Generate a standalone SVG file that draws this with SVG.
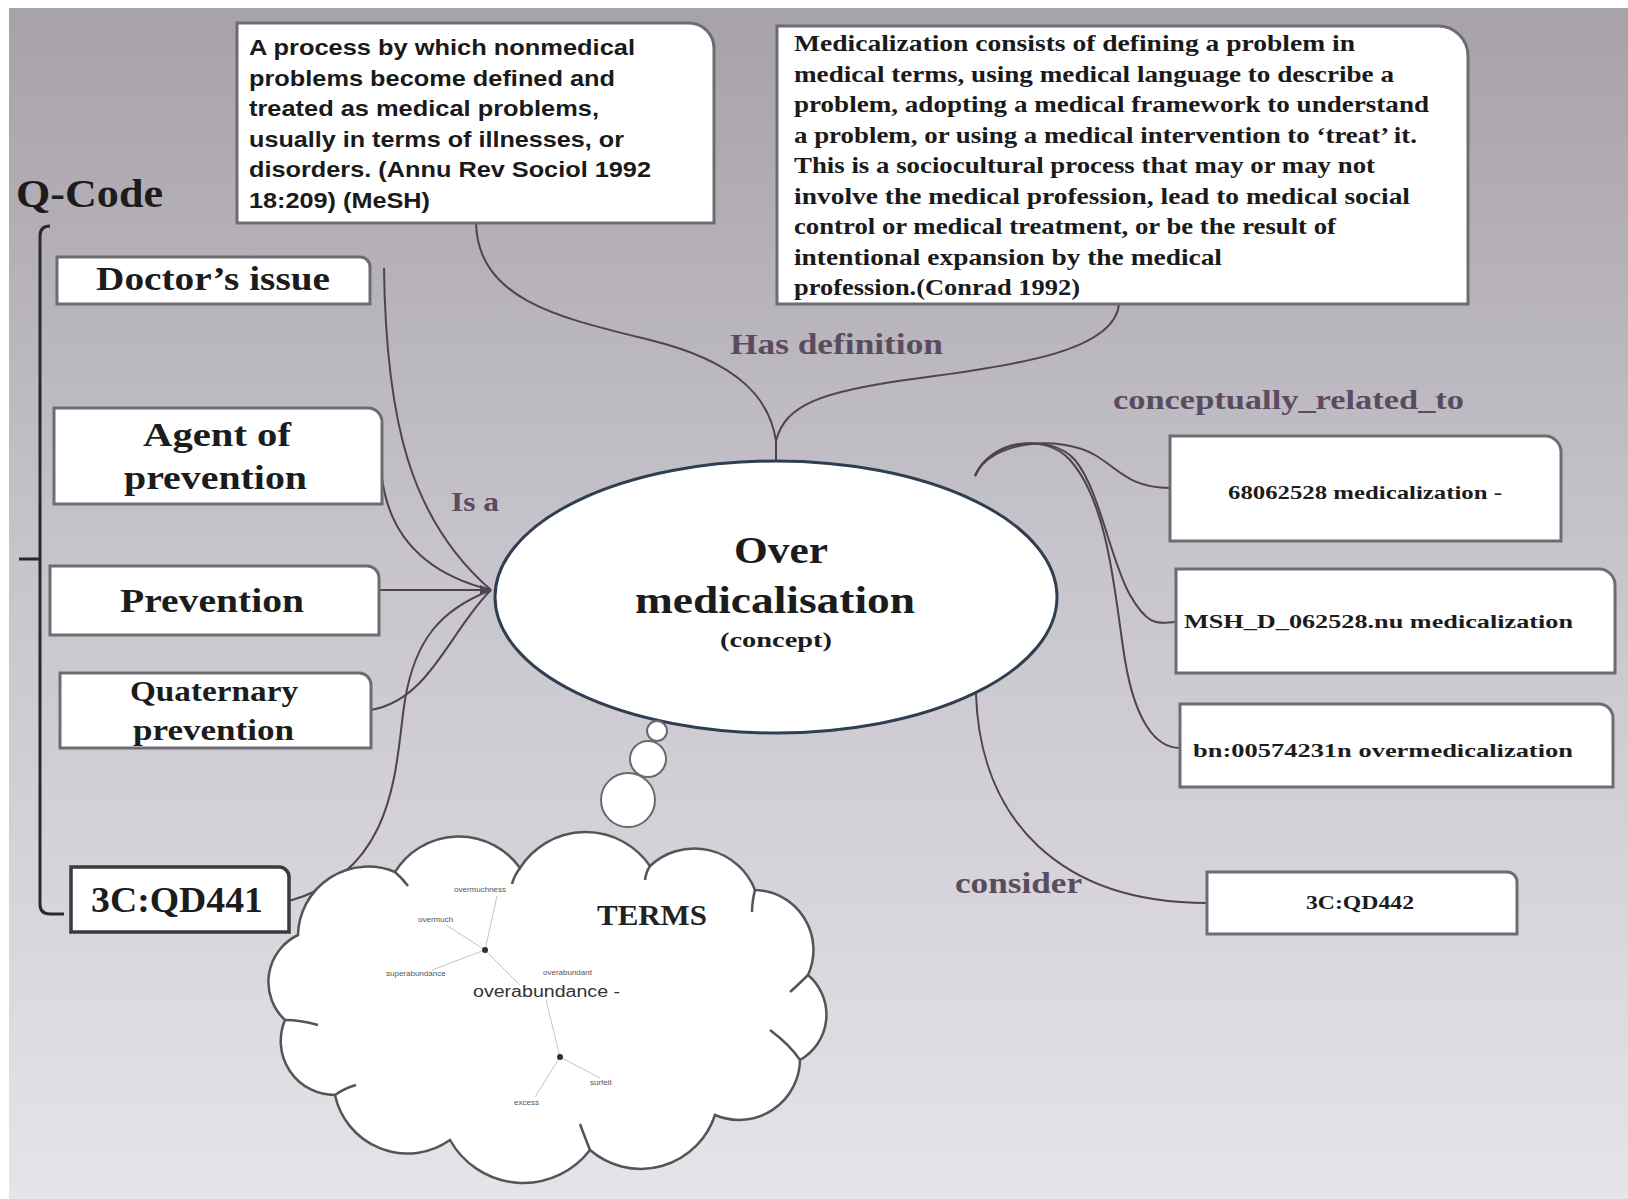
<svg xmlns="http://www.w3.org/2000/svg" width="1628" height="1199" viewBox="0 0 1628 1199">
<defs>
<linearGradient id="bg" x1="0" y1="0" x2="0" y2="1">
<stop offset="0" stop-color="#a7a1a9"/>
<stop offset="0.45" stop-color="#c6c3ca"/>
<stop offset="1" stop-color="#e5e4e9"/>
</linearGradient>
<marker id="arr" markerWidth="12" markerHeight="10" refX="11" refY="5" orient="auto" markerUnits="userSpaceOnUse">
<path d="M0,0 L12,5 L0,10 Z" fill="#4f4352"/>
</marker>
<style>
.box{fill:#ffffff;stroke:#6e6c72;stroke-width:3}
.boxd{fill:#ffffff;stroke:#3a3a3e;stroke-width:3.5}
.lbl{font-family:"Liberation Serif",serif;font-weight:bold;fill:#1c1c1c}
.def1{font-family:"Liberation Sans",Arial,sans-serif;font-weight:bold;font-size:22px;fill:#1a1a1a}
.def2{font-family:"Liberation Serif",serif;font-weight:bold;font-size:23px;fill:#1a1a1a}
.rel{font-family:"Liberation Serif",serif;font-weight:bold;fill:#5a4c5f}
.con{fill:none;stroke:#4f4352;stroke-width:2}
.term{font-family:"Liberation Sans",Arial,sans-serif;font-size:8px;fill:#555}
.tl{stroke:#c4c4c4;stroke-width:1;fill:none}
.curl{fill:none;stroke:#555558;stroke-width:2.5}
</style>
</defs>
<rect x="0" y="0" width="1628" height="1199" fill="#ffffff"/>
<rect x="9" y="8" width="1619" height="1191" fill="url(#bg)"/>

<g id="connectors">
<path class="con" d="M476,223 C478,300 560,318 650,340 S770,400 776,441"/>
<path class="con" d="M1119,304 C1115,350 1020,365 920,378 S785,405 776,441"/>
<path class="con" d="M776,441 V461"/>
<path class="con" d="M384,268 C386,420 410,520 491,590"/>
<path class="con" d="M382,478 C390,540 430,575 491,590"/>
<path class="con" d="M371,710 C430,700 450,630 491,590"/>
<path class="con" d="M289,901 C400,870 395,760 405,700 S440,610 491,590"/>
<path class="con" d="M379,590 H491" marker-end="url(#arr)"/>
<path class="con" d="M975,476 C990,440 1060,435 1095,455 C1120,470 1130,488 1170,488"/>
<path class="con" d="M975,476 C990,440 1050,432 1075,460 C1100,490 1110,560 1130,595 S1160,622 1176,622"/>
<path class="con" d="M975,476 C990,440 1045,432 1070,460 C1110,505 1115,600 1125,660 C1135,720 1155,748 1180,748"/>
<path class="con" d="M976,694 C980,820 1060,903 1207,903"/>
<path d="M50,226 Q40,226 40,236 V904 Q40,914 50,914 H64" fill="none" stroke="#2a2a2e" stroke-width="3"/>
<path d="M19,559 H40" fill="none" stroke="#2a2a2e" stroke-width="3"/>
</g>

<g id="qcode"><text class="lbl" x="16" y="207" font-size="40" textLength="147" lengthAdjust="spacingAndGlyphs">Q-Code</text></g>

<g id="def-mesh">
<path class="box" d="M237,23 H689 A25,25 0 0 1 714,48 V223 H237 Z"/>
<text class="def1" x="249" y="55" textLength="386" lengthAdjust="spacingAndGlyphs">A process by which nonmedical</text>
<text class="def1" x="249" y="85.6" textLength="366" lengthAdjust="spacingAndGlyphs">problems become defined and</text>
<text class="def1" x="249" y="116.2" textLength="350" lengthAdjust="spacingAndGlyphs">treated as medical problems,</text>
<text class="def1" x="249" y="146.8" textLength="375" lengthAdjust="spacingAndGlyphs">usually in terms of illnesses, or</text>
<text class="def1" x="249" y="177.4" textLength="402" lengthAdjust="spacingAndGlyphs">disorders. (Annu Rev Sociol 1992</text>
<text class="def1" x="249" y="208" textLength="181" lengthAdjust="spacingAndGlyphs">18:209) (MeSH)</text>
</g>

<g id="def-conrad">
<path class="box" d="M777,26 H1438 A30,30 0 0 1 1468,56 V304 H777 Z"/>
<text class="def2" x="794" y="51" textLength="561" lengthAdjust="spacingAndGlyphs">Medicalization consists of defining a problem in</text>
<text class="def2" x="794" y="81.5" textLength="600" lengthAdjust="spacingAndGlyphs">medical terms, using medical language to describe a</text>
<text class="def2" x="794" y="112" textLength="635" lengthAdjust="spacingAndGlyphs">problem, adopting a medical framework to understand</text>
<text class="def2" x="794" y="142.5" textLength="623" lengthAdjust="spacingAndGlyphs">a problem, or using a medical intervention to ‘treat’ it.</text>
<text class="def2" x="794" y="173" textLength="581" lengthAdjust="spacingAndGlyphs">This is a sociocultural process that may or may not</text>
<text class="def2" x="794" y="203.5" textLength="616" lengthAdjust="spacingAndGlyphs">involve the medical profession, lead to medical social</text>
<text class="def2" x="794" y="234" textLength="542" lengthAdjust="spacingAndGlyphs">control or medical treatment, or be the result of</text>
<text class="def2" x="794" y="264.5" textLength="428" lengthAdjust="spacingAndGlyphs">intentional expansion by the medical</text>
<text class="def2" x="794" y="295" textLength="286" lengthAdjust="spacingAndGlyphs">profession.(Conrad 1992)</text>
</g>

<g id="doctors-issue">
<path class="box" d="M57,257 H360 A10,10 0 0 1 370,267 V304 H57 Z"/>
<text class="lbl" x="96" y="290" font-size="34" textLength="234" lengthAdjust="spacingAndGlyphs">Doctor’s issue</text>
</g>
<g id="agent-of-prevention">
<path class="box" d="M54,408 H368 A14,14 0 0 1 382,422 V504 H54 Z"/>
<text class="lbl" x="143" y="446" font-size="34" textLength="148" lengthAdjust="spacingAndGlyphs">Agent of</text>
<text class="lbl" x="124" y="489" font-size="34" textLength="183" lengthAdjust="spacingAndGlyphs">prevention</text>
</g>
<g id="prevention">
<path class="box" d="M50,566 H367 A12,12 0 0 1 379,578 V635 H50 Z"/>
<text class="lbl" x="120" y="612" font-size="34" textLength="184" lengthAdjust="spacingAndGlyphs">Prevention</text>
</g>
<g id="quaternary-prevention">
<path class="box" d="M60,673 H359 A12,12 0 0 1 371,685 V748 H60 Z"/>
<text class="lbl" x="130" y="701" font-size="30" textLength="168" lengthAdjust="spacingAndGlyphs">Quaternary</text>
<text class="lbl" x="133" y="740" font-size="30" textLength="161" lengthAdjust="spacingAndGlyphs">prevention</text>
</g>
<g id="qd441">
<path class="boxd" d="M71,867 H279 A10,10 0 0 1 289,877 V932 H71 Z"/>
<text class="lbl" x="91" y="912" font-size="36" textLength="172" lengthAdjust="spacingAndGlyphs">3C:QD441</text>
</g>

<g id="r-68062528">
<path class="box" d="M1170,436 H1545 A16,16 0 0 1 1561,452 V541 H1170 Z"/>
<text class="lbl" x="1228" y="499" font-size="19" textLength="274" lengthAdjust="spacingAndGlyphs">68062528 medicalization -</text>
</g>
<g id="r-msh">
<path class="box" d="M1176,569 H1599 A16,16 0 0 1 1615,585 V673 H1176 Z"/>
<text class="lbl" x="1184" y="628" font-size="19" textLength="389" lengthAdjust="spacingAndGlyphs">MSH_D_062528.nu medicalization</text>
</g>
<g id="r-bn">
<path class="box" d="M1180,704 H1599 A14,14 0 0 1 1613,718 V787 H1180 Z"/>
<text class="lbl" x="1193" y="757" font-size="19" textLength="380" lengthAdjust="spacingAndGlyphs">bn:00574231n overmedicalization</text>
</g>
<g id="qd442">
<path class="box" d="M1207,872 H1507 A10,10 0 0 1 1517,882 V934 H1207 Z"/>
<text class="lbl" x="1306" y="909" font-size="19" textLength="108" lengthAdjust="spacingAndGlyphs">3C:QD442</text>
</g>

<g id="labels">
<text class="rel" x="730" y="354" font-size="30" textLength="213" lengthAdjust="spacingAndGlyphs">Has definition</text>
<text class="rel" x="1113" y="409" font-size="28" textLength="351" lengthAdjust="spacingAndGlyphs">conceptually_related_to</text>
<text class="rel" x="451" y="511" font-size="28" textLength="48" lengthAdjust="spacingAndGlyphs">Is a</text>
<text class="rel" x="955" y="893" font-size="30" textLength="127" lengthAdjust="spacingAndGlyphs">consider</text>
</g>

<g id="over-medicalisation">
<ellipse cx="776" cy="597" rx="281" ry="136" fill="#ffffff" stroke="#2f3e50" stroke-width="3"/>
<text class="lbl" x="734" y="563" font-size="38" textLength="94" lengthAdjust="spacingAndGlyphs">Over</text>
<text class="lbl" x="635" y="613" font-size="38" textLength="280" lengthAdjust="spacingAndGlyphs">medicalisation</text>
<text class="lbl" x="720" y="647" font-size="20" textLength="112" lengthAdjust="spacingAndGlyphs">(concept)</text>
</g>

<g id="terms">
<circle cx="657" cy="731" r="10" fill="#ffffff" stroke="#6a6a6e" stroke-width="2"/>
<circle cx="648" cy="759" r="18" fill="#ffffff" stroke="#6a6a6e" stroke-width="2"/>
<circle cx="628" cy="800" r="27" fill="#ffffff" stroke="#6a6a6e" stroke-width="2"/>
<path d="M298,935 A70,70 0 0 1 395,872 A75,75 0 0 1 520,868 A78,78 0 0 1 650,866 A65,65 0 0 1 755,890 A60,60 0 0 1 808,975 A52,52 0 0 1 800,1060 A61,61 0 0 1 715,1115 A78,78 0 0 1 590,1150 A84,84 0 0 1 450,1140 A74,74 0 0 1 335,1095 A54,54 0 0 1 285,1020 A52,52 0 0 1 298,935 Z" fill="#ffffff" stroke="#555558" stroke-width="2.5"/>
<path class="curl" d="M395,872 Q402,878 408,886"/>
<path class="curl" d="M520,868 Q514,876 512,884"/>
<path class="curl" d="M650,866 Q646,872 645,880"/>
<path class="curl" d="M755,890 Q752,902 752,912"/>
<path class="curl" d="M808,975 Q798,985 790,992"/>
<path class="curl" d="M800,1060 Q790,1045 770,1030"/>
<path class="curl" d="M590,1150 Q584,1135 580,1124"/>
<path class="curl" d="M335,1095 Q345,1088 356,1085"/>
<path class="curl" d="M285,1020 Q300,1020 318,1025"/>
<path class="tl" d="M485,950 L497,896 M485,950 L446,925 M485,950 L432,970 M485,950 L520,985 M546,1000 L560,1057 L600,1078 M560,1057 L535,1097"/>
<circle cx="485" cy="950" r="3" fill="#3a2a2e"/>
<circle cx="560" cy="1057" r="3" fill="#3a2a2e"/>
<text class="term" x="454" y="892">overmuchness</text>
<text class="term" x="418" y="922">overmuch</text>
<text class="term" x="386" y="976">superabundance</text>
<text class="term" x="543" y="975">overabundant</text>
<text x="473" y="997" font-family="Liberation Sans, Arial, sans-serif" font-size="16" fill="#333" textLength="147" lengthAdjust="spacingAndGlyphs">overabundance -</text>
<text class="term" x="590" y="1085">surfeit</text>
<text class="term" x="514" y="1105">excess</text>
<text x="597" y="925" font-family="Liberation Serif, serif" font-size="30" font-weight="bold" fill="#232323" textLength="110" lengthAdjust="spacingAndGlyphs">TERMS</text>
</g>
</svg>
